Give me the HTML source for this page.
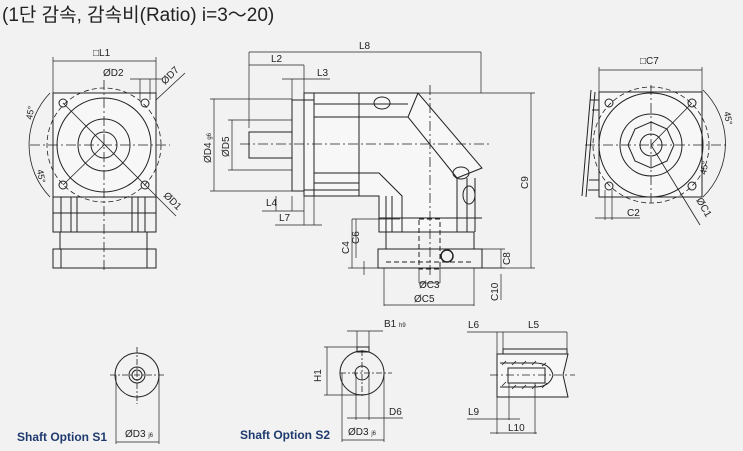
<!DOCTYPE html>
<html><head><meta charset="utf-8"><style>
body{margin:0;background:#f2f2f2}
svg{display:block}
text{font-family:"Liberation Sans","Noto Sans CJK KR",sans-serif;fill:#222}
</style></head><body>
<svg width="743" height="451" viewBox="0 0 743 451" xmlns="http://www.w3.org/2000/svg">
<rect width="743" height="451" fill="#f2f2f2"/>
<text x="2" y="21" font-size="19" fill="#333">(1단 감속, 감속비(Ratio) i=3～20)</text>
<g fill="none" stroke="#222" stroke-width="1">
<rect x="53" y="93" width="103" height="104" fill="#f7f7f7"/>
<circle cx="104" cy="145" r="57" stroke-dasharray="5,3" stroke-width="0.8"/>
<circle cx="104" cy="145" r="47"/>
<circle cx="104" cy="145" r="26"/>
<circle cx="104" cy="145" r="13"/>
<circle cx="63" cy="103" r="4"/><circle cx="145" cy="103" r="4"/><circle cx="63" cy="185" r="4"/><circle cx="145" cy="185" r="4"/>
<line x1="63" y1="103" x2="145" y2="185" stroke-width="0.8"/>
<line x1="63" y1="185" x2="104" y2="145" stroke-width="0.8"/>
<line x1="145" y1="185" x2="176" y2="216" stroke-width="0.8"/>
<line x1="156" y1="100" x2="185" y2="73" stroke-width="0.8"/>
<line x1="30" y1="145" x2="170" y2="145" stroke-dasharray="10,3,2,3" stroke-width="0.8"/>
<line x1="104" y1="80" x2="104" y2="270" stroke-dasharray="10,3,2,3" stroke-width="0.8"/>
<path d="M50 93 A75 75 0 0 0 50 197" stroke-width="0.8"/>
<rect x="53" y="197" width="103" height="35"/>
<path d="M61 197V232M71 197V232M77 197V232M132 197V232M138 197V232M145 197V232M53 213H156"/>
<rect x="60" y="232" width="87" height="17"/>
<rect x="53" y="249" width="103" height="19"/>
<path d="M61 249V268M147 249V268"/>
<path d="M53 93V57M156 93V57M53 61H156" stroke-width="0.7"/>
<path d="M130 79H163M140 79V100M150 79V100" stroke-width="0.7"/>
<path d="M249 52H481M249 52V128M481 52V93M249 65H304M304 65V100M282 79H330M292 79V100" stroke-width="0.7"/>
<rect x="249" y="132" width="43" height="26"/>
<rect x="292" y="100" width="12" height="91"/>
<path d="M304 93H418L482 168L457 178V232H379V196L304 196Z" fill="#f7f7f7"/>
<path d="M359 93V196M314 93V196M314 104H408M314 117H408L457 178M314 173H379L402 196V232M314 183H359M314 190H359M304 100H314M304 190H314M418 93L408 117"/>
<path d="M386 196V232M392 196V232M467 178V232M475 178V232M379 218H482"/>
<ellipse cx="382" cy="103" rx="8" ry="6"/><ellipse cx="461" cy="173" rx="8" ry="6"/><ellipse cx="469" cy="195" rx="6" ry="9"/>
<rect x="386" y="232" width="88" height="17"/>
<rect x="378" y="249" width="104" height="19"/>
<rect x="419" y="219" width="21" height="50" stroke-dasharray="5,3"/>
<line x1="386" y1="262" x2="474" y2="262" stroke-dasharray="5,3"/>
<circle cx="447" cy="256" r="6" stroke-width="1.5"/>
<line x1="240" y1="144" x2="492" y2="144" stroke-dasharray="10,3,2,3" stroke-width="0.8"/>
<line x1="430" y1="85" x2="430" y2="275" stroke-dasharray="10,3,2,3" stroke-width="0.8"/>
<path d="M418 93H535M482 268H535M531 93V268M210 99H292M210 191H292M214 99V191M228 120H292M228 170H292M232 120V170" stroke-width="0.7"/>
<path d="M262 211H304M276 196V211M292 196V211M275 225H322M304 196V225M314 196V225" stroke-width="0.7"/>
<path d="M352 219H400M352 219V268M356 219V258M348 268H378M364 261V275M384 268V306M474 268V306M384 305H474M419 268V283M440 268V283M419 283H440M482 249H505M482 268H505M501 249V268M501 274V300" stroke-width="0.7"/>
<rect x="599" y="92" width="103" height="105" fill="#f7f7f7"/>
<circle cx="651" cy="145" r="58" stroke-dasharray="5,3" stroke-width="0.8"/>
<circle cx="651" cy="145" r="52"/>
<circle cx="651" cy="145" r="31"/>
<path d="M651 122L667 129L674 145L667 161L651 168L635 161L628 145L635 129Z"/>
<circle cx="651" cy="145" r="11"/>
<circle cx="609" cy="103" r="4"/><circle cx="692" cy="103" r="4"/><circle cx="609" cy="186" r="4"/><circle cx="692" cy="186" r="4"/>
<line x1="651" y1="145" x2="692" y2="103" stroke-width="0.8"/>
<line x1="651" y1="145" x2="700" y2="225" stroke-width="0.8"/>
<line x1="585" y1="145" x2="728" y2="145" stroke-dasharray="10,3,2,3" stroke-width="0.8"/>
<line x1="651" y1="85" x2="651" y2="205" stroke-dasharray="10,3,2,3" stroke-width="0.8"/>
<path d="M703 90A75 75 0 0 1 703 197" stroke-width="0.8"/>
<path d="M591 90L582 196M595 92L586 197M599 100H590M599 110H592M599 180H589M599 190H588"/>
<path d="M599 92V67M702 92V67M599 70H702M605 190V220M612 190V220M595 218H640" stroke-width="0.7"/>
<circle cx="137" cy="375" r="22"/><circle cx="137" cy="375" r="8"/><circle cx="137" cy="375" r="5"/>
<path d="M110 375H165M137 347V404" stroke-dasharray="6,2,2,2" stroke-width="0.8"/>
<path d="M116 375V444M159 375V444M116 442H159" stroke-width="0.7"/>
<circle cx="362" cy="373" r="22"/><circle cx="362" cy="373" r="7"/>
<rect x="357" y="347" width="12" height="5"/>
<path d="M340 373H392M362 350V397" stroke-dasharray="6,2,2,2" stroke-width="0.8"/>
<path d="M324 347H358M324 395H362M327 347V395M357 347V331M369 347V331M347 331H383M342 373V442M384 373V442M342 440H384M356 373V420M369 373V420M347 418H403" stroke-width="0.7"/>
<rect x="503" y="349" width="64" height="5"/>
<path d="M497 354H568L563 375L568 397H497Z" fill="#f7f7f7"/>
<path d="M500 363H535Q550 363 553 375Q550 387 535 387H500" />
<rect x="508" y="368" width="37" height="15"/>
<path d="M502 365L506 361M512 365L516 361M522 365L526 361M532 365L536 361M542 366L546 363M502 386L506 382M512 389L516 385M522 389L526 385M532 389L536 385M542 388L547 383" stroke-width="0.8"/>
<line x1="490" y1="375" x2="575" y2="375" stroke-dasharray="8,3,2,3" stroke-width="0.8"/>
<path d="M467 332H503M503 332V349M497 354V332M503 332H567M567 332V349M497 397V434M509 383V420M535 383V434M467 419H520M490 433H537" stroke-width="0.7"/>
</g>
<g font-size="10">
<text x="93" y="56">□L1</text>
<text x="103" y="76">ØD2</text>
<text x="165" y="85" transform="rotate(-45 165 85)">ØD7</text>
<text x="163" y="196" transform="rotate(45 163 196)">ØD1</text>
<text x="32" y="120" transform="rotate(-80 32 120)" font-size="9">45°</text>
<text x="37" y="170" transform="rotate(80 37 170)" font-size="9">45°</text>
<text x="359" y="49">L8</text>
<text x="271" y="62">L2</text>
<text x="317" y="76">L3</text>
<text x="266" y="206">L4</text>
<text x="279" y="221">L7</text>
<text x="211" y="163" transform="rotate(-90 211 163)">ØD4 <tspan font-size="6">g6</tspan></text>
<text x="229" y="157" transform="rotate(-90 229 157)">ØD5</text>
<text x="528" y="189" transform="rotate(-90 528 189)">C9</text>
<text x="349" y="254" transform="rotate(-90 349 254)">C4</text>
<text x="359" y="244" transform="rotate(-90 359 244)">C6</text>
<text x="510" y="265" transform="rotate(-90 510 265)">C8</text>
<text x="498" y="301" transform="rotate(-90 498 301)">C10</text>
<text x="419" y="288">ØC3</text>
<text x="414" y="302">ØC5</text>
<text x="640" y="64">□C7</text>
<text x="627" y="216">C2</text>
<text x="696" y="200" transform="rotate(60 696 200)">ØC1</text>
<text x="724" y="112" transform="rotate(80 724 112)" font-size="9">45°</text>
<text x="706" y="175" transform="rotate(-80 706 175)" font-size="9">45°</text>
<text x="125" y="437">ØD3 <tspan font-size="6">j6</tspan></text>
<text x="384" y="327">B1 <tspan font-size="6">h9</tspan></text>
<text x="321" y="382" transform="rotate(-90 321 382)">H1</text>
<text x="389" y="415">D6</text>
<text x="348" y="435">ØD3 <tspan font-size="6">j6</tspan></text>
<text x="468" y="328">L6</text>
<text x="528" y="328">L5</text>
<text x="468" y="415">L9</text>
<text x="508" y="431">L10</text>
</g>
<text x="17" y="441" font-size="12" font-weight="bold" style="fill:#1f3a6e">Shaft Option S1</text>
<text x="240" y="439" font-size="12" font-weight="bold" style="fill:#1f3a6e">Shaft Option S2</text>
</svg>
</body></html>
